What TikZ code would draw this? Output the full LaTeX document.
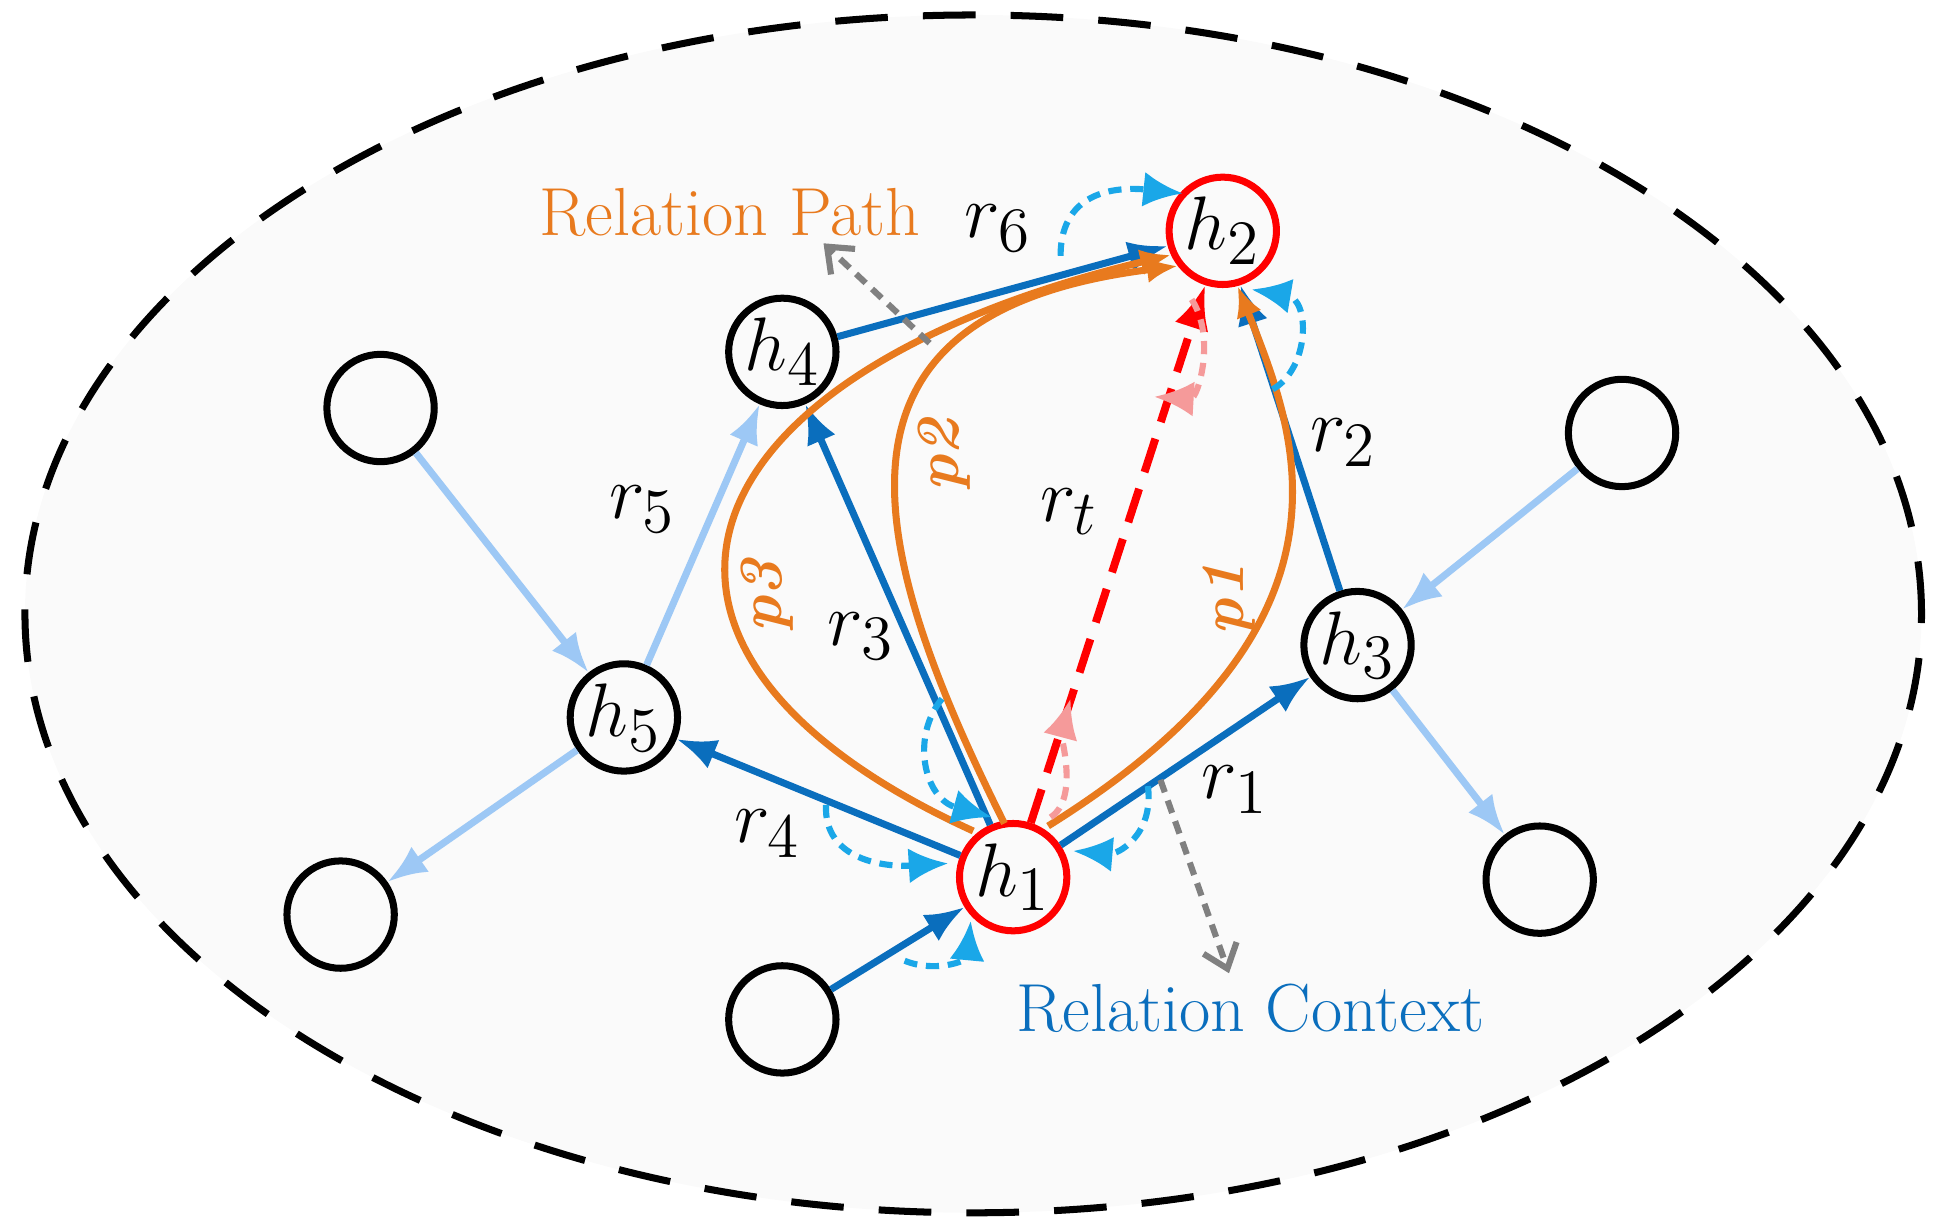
\documentclass[tikz,border=0pt]{standalone}
\usetikzlibrary{arrows.meta}
\definecolor{db}{HTML}{0A6EBD}
\definecolor{lb}{HTML}{9DC8F5}
\definecolor{cy}{HTML}{1AA7E8}
\definecolor{orn}{HTML}{E87A1E}
\definecolor{pk}{HTML}{F59A9A}
\begin{document}
\begin{tikzpicture}[x=0.01cm,y=-0.01cm,
 nd/.style={circle,draw=black,line width=1.6pt,minimum size=0.86cm,inner sep=0pt,font=\fontsize{19}{19}\selectfont},
 rd/.style={nd,draw=red},
 de/.style={draw=db,line width=1.6pt,-{Latex[length=9pt,width=7pt]}},
 le/.style={draw=lb,line width=1.6pt,-{Latex[length=9pt,width=7pt]}},
 oe/.style={draw=orn,line width=1.6pt,-{Latex[length=7pt,width=6pt]}},
 ce/.style={draw=cy,line width=1.4pt,densely dashed,-{Latex[length=9pt,width=8pt]}},
 pe/.style={draw=pk,line width=1.4pt,densely dashed,-{Latex[length=9pt,width=8pt]}},
 ge/.style={draw=gray,line width=1.4pt,densely dashed,-{Straight Barb[length=5pt,width=8pt]}},
 lab/.style={font=\fontsize{19}{19}\selectfont},
 pl/.style={font=\fontsize{14}{14}\selectfont\bfseries\itshape,text=orn}]
\useasboundingbox (0,0) rectangle (1550,985);
\draw[line width=1.6pt,dash pattern=on 12pt off 8pt,fill=black!2] (780,492) ellipse [x radius=760,y radius=-480];
\node[rd] (h2) at (980,185) {$h_2$};
\node[nd] (h4) at (627,282) {$h_4$};
\node[nd] (a) at (305,327) {};
\node[nd] (b) at (1300,347) {};
\node[nd] (h3) at (1088,517) {$h_3$};
\node[nd] (h5) at (500,575) {$h_5$};
\node[rd] (h1) at (812,703) {$h_1$};
\node[nd] (c) at (273,733) {};
\node[nd] (d) at (1234,705) {};
\node[nd] (e) at (627,817) {};
\draw[de] (h4) -- (h2);
\draw[de] (h3) -- (h2);
\draw[de] (h1) -- (h4);
\draw[de] (h1) -- (h3);
\draw[de] (h1) -- (h5);
\draw[de] (e) -- (h1);
\draw[le] (a) -- (h5);
\draw[le] (h5) -- (h4);
\draw[le] (h5) -- (c);
\draw[le] (b) -- (h3);
\draw[le] (h3) -- (d);
\draw[red,line width=1.8pt,dash pattern=on 8pt off 4pt,-{Latex[length=10pt,width=8pt]}] (h1) -- (h2);
\draw[oe] (780,666) .. controls (460,520) and (540,300) .. (h2.205);
\draw[oe] (805,660) .. controls (690,430) and (650,250) .. (h2.218);
\draw[oe] (840,662) .. controls (1100,500) and (1040,350) .. (h2.285);
\coordinate (c1a) at (850,205); \coordinate (c1b) at (948,155);
\draw[ce] (c1a) .. controls (850,150) and (900,150) .. (c1b);
\coordinate (c2a) at (1020,312); \coordinate (c2b) at (1003,232);
\draw[ce] (c2a) .. controls (1050,295) and (1050,240) .. (c2b);
\coordinate (c3a) at (755,560); \coordinate (c3b) at (795,655);
\draw[ce] (c3a) .. controls (730,590) and (740,640) .. (c3b);
\coordinate (c4a) at (662,645); \coordinate (c4b) at (760,692);
\draw[ce] (c4a) .. controls (660,690) and (710,695) .. (c4b);
\coordinate (c5a) at (920,630); \coordinate (c5b) at (860,682);
\draw[ce] (c5a) .. controls (925,670) and (895,685) .. (c5b);
\coordinate (c6a) at (725,770); \coordinate (c6b) at (778,738);
\draw[ce] (c6a) .. controls (750,780) and (775,770) .. (c6b);
\coordinate (p1a) at (842,655); \coordinate (p1b) at (858,560);
\draw[pe] (p1a) .. controls (865,640) and (850,590) .. (p1b);
\coordinate (p2a) at (955,240); \coordinate (p2b) at (925,318);
\draw[pe] (p2a) .. controls (975,270) and (960,320) .. (p2b);
\coordinate (g1a) at (745,275); \coordinate (g1b) at (660,195);
\draw[ge] (g1a) -- (g1b);
\coordinate (g2a) at (930,625); \coordinate (g2b) at (985,780);
\draw[ge] (g2a) -- (g2b);
\node[font=\fontsize{15.5}{15.5}\selectfont,text=orn] (rp) at (585,170) {Relation Path};
\node[font=\fontsize{15.5}{15.5}\selectfont,text=db] (rc) at (1002,808) {Relation Context};
\node[lab] (l6) at (800,183) {$r_6$};
\node[lab] (l2) at (1077,355) {$r_2$};
\node[lab] (l5) at (515,408) {$r_5$};
\node[lab] (l3) at (690,510) {$r_3$};
\node[lab] (lt) at (857,410) {$r_t$};
\node[lab] (l1) at (990,633) {$r_1$};
\node[lab] (l4) at (615,668) {$r_4$};
\node[pl,rotate=90] (q2) at (757,365) {p2};
\node[pl,rotate=90] (q3) at (615,478) {p3};
\node[pl,rotate=90] (q1) at (985,480) {p1};
\end{tikzpicture}
\end{document}
